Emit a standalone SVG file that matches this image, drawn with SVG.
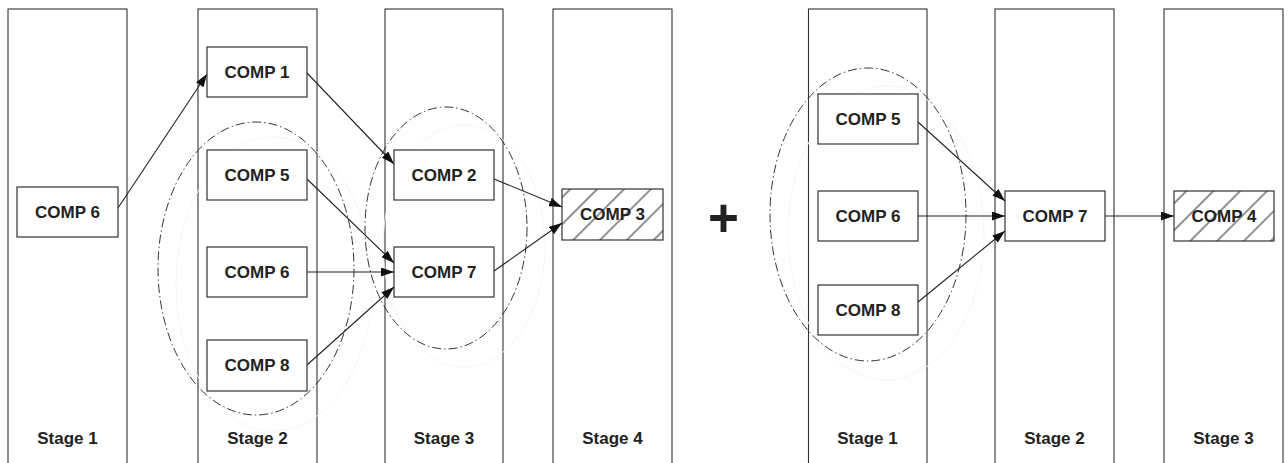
<svg xmlns="http://www.w3.org/2000/svg" width="1288" height="463" viewBox="0 0 1288 463">
<style>
.col{fill:none;stroke:#333;stroke-width:1.1}
.box{fill:#fff;stroke:#333;stroke-width:1.2}
.hbox{fill:url(#hatch);stroke:#333;stroke-width:1.2}
.lbl{font-family:"Liberation Sans",Arial,sans-serif;font-weight:bold;font-size:17px;fill:#222;text-anchor:middle}
.grp{fill:none;stroke:#333;stroke-width:1;stroke-dasharray:9 3 1.5 3}
.shadow{fill:none;stroke:#f6f6f6;stroke-width:1}
.conn{fill:none;stroke:#222;stroke-width:1.1;marker-end:url(#arr)}
</style>
<defs>
<marker id="arr" markerUnits="userSpaceOnUse" markerWidth="13" markerHeight="9" refX="13" refY="4.5" orient="auto">
<path d="M0,0 L13,4.5 L0,9 z" fill="#111"/>
</marker>
<pattern id="hatch" patternUnits="userSpaceOnUse" width="19" height="19" patternTransform="rotate(45)">
<rect width="19" height="19" fill="#fff"/>
<line x1="5" y1="0" x2="5" y2="19" stroke="#222" stroke-width="1"/>
</pattern>
</defs>

<g id="columns">
<g id="L-stage1"><rect class="col" x="8" y="9" width="119" height="470"/><text class="lbl" x="67.5" y="444">Stage 1</text></g>
<g id="L-stage2"><rect class="col" x="198" y="9" width="119" height="470"/><text class="lbl" x="257.5" y="444">Stage 2</text></g>
<g id="L-stage3"><rect class="col" x="385" y="9" width="118" height="470"/><text class="lbl" x="444" y="444">Stage 3</text></g>
<g id="L-stage4"><rect class="col" x="553" y="9" width="119" height="470"/><text class="lbl" x="612.5" y="444">Stage 4</text></g>
<g id="R-stage1"><rect class="col" x="808.5" y="9" width="118.5" height="470"/><text class="lbl" x="867.5" y="444">Stage 1</text></g>
<g id="R-stage2"><rect class="col" x="995" y="9" width="119" height="470"/><text class="lbl" x="1054.5" y="444">Stage 2</text></g>
<g id="R-stage3"><rect class="col" x="1164" y="9" width="119" height="470"/><text class="lbl" x="1223.5" y="444">Stage 3</text></g>
</g>

<g id="groups">
<ellipse class="shadow" cx="274" cy="284" rx="98" ry="147"/>
<ellipse class="shadow" cx="464" cy="246" rx="81" ry="121"/>
<ellipse class="shadow" cx="886" cy="233" rx="98" ry="147"/>
<ellipse class="grp" cx="256" cy="268.5" rx="98" ry="146.5"/>
<ellipse class="grp" cx="446" cy="228" rx="81" ry="121"/>
<ellipse class="grp" cx="868" cy="214.5" rx="98" ry="146.5"/>
</g>

<g id="connectors">
<line class="conn" x1="118" y1="208" x2="207" y2="74"/>
<line class="conn" x1="307" y1="73" x2="394" y2="164"/>
<line class="conn" x1="307" y1="179" x2="394" y2="263"/>
<line class="conn" x1="307" y1="272" x2="394" y2="272"/>
<line class="conn" x1="307" y1="365" x2="394" y2="287"/>
<line class="conn" x1="494" y1="179" x2="562" y2="207"/>
<line class="conn" x1="494" y1="271" x2="562" y2="223"/>
<line class="conn" x1="918" y1="122" x2="1005" y2="201"/>
<line class="conn" x1="918" y1="216" x2="1005" y2="216"/>
<line class="conn" x1="918" y1="302" x2="1005" y2="231"/>
<line class="conn" x1="1105" y1="216" x2="1174" y2="216"/>
</g>

<g id="L-comp6"><rect class="box" x="17" y="187" width="101" height="50"/><text class="lbl" x="67.5" y="218">COMP 6</text></g>
<g id="L-comp1"><rect class="box" x="207" y="47" width="100" height="50"/><text class="lbl" x="257" y="78">COMP 1</text></g>
<g id="L-comp5"><rect class="box" x="207" y="150" width="100" height="50"/><text class="lbl" x="257" y="181">COMP 5</text></g>
<g id="L-comp6b"><rect class="box" x="207" y="247" width="100" height="50"/><text class="lbl" x="257" y="278">COMP 6</text></g>
<g id="L-comp8"><rect class="box" x="207" y="340" width="100" height="51"/><text class="lbl" x="257" y="371">COMP 8</text></g>
<g id="L-comp2"><rect class="box" x="394" y="150" width="100" height="50"/><text class="lbl" x="444" y="181">COMP 2</text></g>
<g id="L-comp7"><rect class="box" x="394" y="247" width="100" height="50"/><text class="lbl" x="444" y="278">COMP 7</text></g>
<g id="L-comp3"><rect class="hbox" x="562" y="189" width="101" height="51"/><text class="lbl" x="612.5" y="220">COMP 3</text></g>

<g id="plus"><text x="723.5" y="235.5" style="font-family:'Liberation Sans',Arial,sans-serif;font-weight:bold;font-size:53px;fill:#222;text-anchor:middle">+</text></g>

<g id="R-comp5"><rect class="box" x="818" y="94" width="100" height="50"/><text class="lbl" x="868" y="125">COMP 5</text></g>
<g id="R-comp6"><rect class="box" x="818" y="191" width="100" height="50"/><text class="lbl" x="868" y="222">COMP 6</text></g>
<g id="R-comp8"><rect class="box" x="818" y="285" width="100" height="50"/><text class="lbl" x="868" y="316">COMP 8</text></g>
<g id="R-comp7"><rect class="box" x="1005" y="191" width="100" height="50"/><text class="lbl" x="1055" y="222">COMP 7</text></g>
<g id="R-comp4"><rect class="hbox" x="1174" y="191" width="100" height="50"/><text class="lbl" x="1224" y="222">COMP 4</text></g>
</svg>
